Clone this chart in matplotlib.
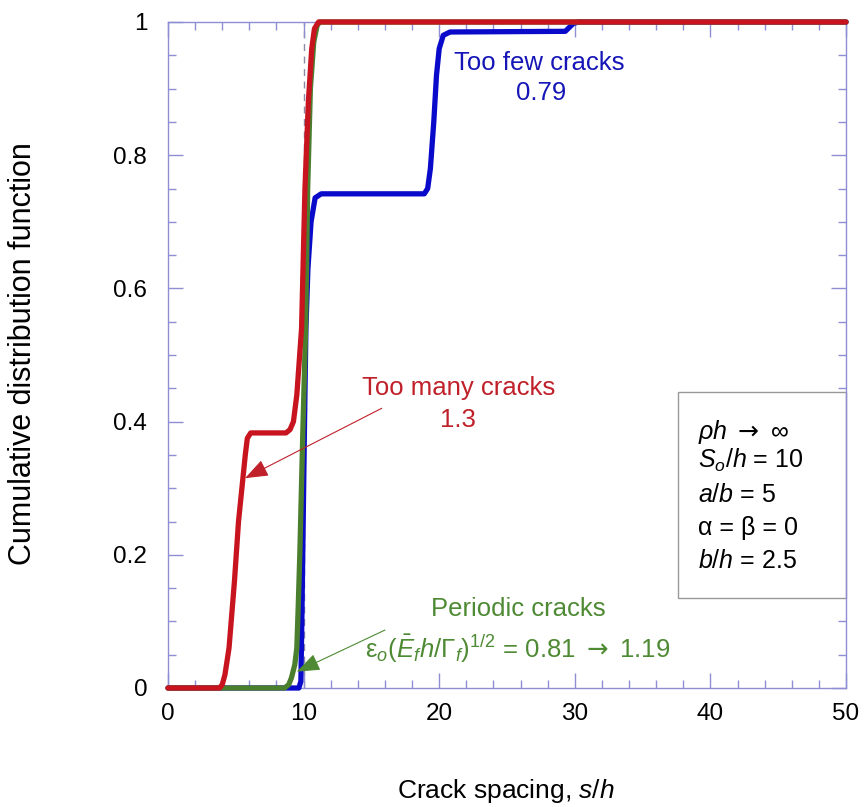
import matplotlib
matplotlib.use("Agg")
import matplotlib.pyplot as plt
from matplotlib.ticker import MultipleLocator, FixedLocator
from matplotlib.patches import Rectangle

plt.rcParams['font.family'] = ['Liberation Sans', 'DejaVu Sans']
plt.rcParams['mathtext.fontset'] = 'custom'
plt.rcParams['mathtext.rm'] = 'Liberation Sans'
plt.rcParams['mathtext.it'] = 'Liberation Sans:italic'
plt.rcParams['mathtext.bf'] = 'Liberation Sans:bold'
plt.rcParams['mathtext.sf'] = 'DejaVu Sans'

# ---- data ----
red_x = [0, 3.8, 4.0, 4.2, 4.5, 4.9, 5.2, 5.5, 5.7, 5.85, 6.1, 7.0, 8.7, 9.0, 9.25, 9.5,
         9.85, 10.1, 10.35, 10.6, 10.8, 11.1, 50]
red_y = [0, 0, 0.005, 0.02, 0.06, 0.16, 0.25, 0.31, 0.35, 0.375, 0.383, 0.383, 0.383, 0.388,
         0.40, 0.44, 0.54, 0.75, 0.88, 0.96, 0.99, 1.0, 1.0]

green_x = [0, 8.6, 8.9, 9.1, 9.35, 9.5, 9.6, 9.72, 9.95, 10.15, 10.3, 10.5, 10.75, 11.0, 11.2, 50]
green_y = [0, 0, 0.005, 0.015, 0.035, 0.06, 0.12, 0.2, 0.39, 0.54, 0.75, 0.9, 0.97, 0.995, 1.0, 1.0]

blue_x = [0, 9.65, 9.8, 9.87, 9.97, 10.07, 10.17, 10.32, 10.55, 10.85, 11.3, 18.9, 19.15, 19.35,
          19.6, 19.8, 20.0, 20.3, 20.8, 29.3, 29.6, 29.9, 30.3, 50]
blue_y = [0, 0, 0.01, 0.1, 0.25, 0.40, 0.54, 0.63, 0.70, 0.736, 0.742, 0.742, 0.75, 0.78,
          0.85, 0.92, 0.96, 0.98, 0.985, 0.986, 0.992, 0.998, 1.0, 1.0]

x_ticks = [0, 10, 20, 30, 40, 50]
x_tick_labels = ['0', '10', '20', '30', '40', '50']
y_ticks = [0, 0.2, 0.4, 0.6, 0.8, 1.0]
y_tick_labels = ['0', '0.2', '0.4', '0.6', '0.8', '1']

reference_spacing = 10  # dashed line (S_o/h)

# ---- figure ----
fig = plt.figure(figsize=(8.66, 8.07), dpi=100)
ax = fig.add_axes([168/866, 1-688/807, 678/866, 666/807])

c_blue = '#0a0acb'
c_red = '#c8141e'
c_green = '#4a7f2e'
spine_c = '#8e8ed2'

ax.axvline(reference_spacing, color='#8a8aa8', lw=1.0, ls=(0, (5, 4)), zorder=1)

for xs, ys, c in [(blue_x, blue_y, c_blue), (green_x, green_y, c_green), (red_x, red_y, c_red)]:
    ax.plot(xs, ys, color=c, lw=3.8, solid_joinstyle='round', solid_capstyle='round',
            clip_on=False, zorder=3)

ax.set_xlim(0, 50)
ax.set_ylim(0, 1)
ax.xaxis.set_major_locator(FixedLocator(x_ticks))
ax.set_xticklabels(x_tick_labels)
ax.yaxis.set_major_locator(FixedLocator(y_ticks))
ax.set_yticklabels(y_tick_labels)
ax.xaxis.set_minor_locator(MultipleLocator(2))
ax.yaxis.set_minor_locator(MultipleLocator(0.05))
ax.tick_params(which='both', direction='in', top=True, right=True, color=spine_c, width=1.0)
ax.tick_params(which='major', length=11)
ax.tick_params(which='minor', length=6)
ax.tick_params(axis='y', which='major', pad=15, labelsize=17.5)
ax.tick_params(axis='x', which='major', pad=11, labelsize=17.5)
for s in ax.spines.values():
    s.set_color(spine_c)
    s.set_linewidth(1.0)

# axis labels
fig.text(23/866, 1-354/807, 'Cumulative distribution function', rotation=90,
         ha='center', va='center', fontsize=22)
fig.text(506/866, 1-798/807, 'Crack spacing, $s/h$', ha='center', va='baseline', fontsize=19)

# annotations
t_blue = '#1616b8'
t_red = '#c0202a'
t_green = '#4e8a34'
arrow = '$\\mathsf{\\rightarrow}$'
ax.text(27.4, 0.928, 'Too few cracks', color=t_blue, fontsize=18.5, ha='center', va='baseline')
ax.text(27.5, 0.883, '0.79', color=t_blue, fontsize=18.5, ha='center', va='baseline')
ax.text(21.4, 0.44, 'Too many cracks', color=t_red, fontsize=18.5, ha='center', va='baseline')
ax.text(21.4, 0.392, '1.3', color=t_red, fontsize=18.5, ha='center', va='baseline')
ax.text(25.8, 0.108, 'Periodic cracks', color=t_green, fontsize=18.5, ha='center', va='baseline')
ax.text(25.8, 0.045, 'ε$_o$($\\bar{E}_fh$/Γ$_f$)$^{1/2}$ = 0.81 ' + arrow + ' 1.19', color=t_green,
        fontsize=18.5, ha='center', va='baseline')

ax.annotate('', xy=(5.68, 0.315), xytext=(15.76, 0.42),
            arrowprops=dict(arrowstyle='-|>,head_length=0.8,head_width=0.3', color=t_red,
                            lw=0.8, mutation_scale=18, shrinkA=0, shrinkB=0), zorder=4)
ax.annotate('', xy=(9.49, 0.0245), xytext=(16.0, 0.087),
            arrowprops=dict(arrowstyle='-|>,head_length=0.8,head_width=0.3', color=t_green,
                            lw=0.8, mutation_scale=18, shrinkA=0, shrinkB=0), zorder=4)

# parameter box
ax.add_patch(Rectangle((37.63, 0.1347), 50 - 37.63, 0.445 - 0.1347, facecolor='white',
                       edgecolor='#999999', lw=1.0, zorder=2, clip_on=False))
box_lines = ['$\\rho h$ ' + arrow + ' ∞', '$S_o/h$ = 10', '$a/b$ = 5', 'α = β = 0', '$b/h$ = 2.5']
box_y = [0.3734, 0.3299, 0.2797, 0.2297, 0.1797]
for s, y in zip(box_lines, box_y):
    ax.text(39.1, y, s, fontsize=18, ha='left', va='baseline', color='black', zorder=5)

fig.savefig('out.png', dpi=100)
